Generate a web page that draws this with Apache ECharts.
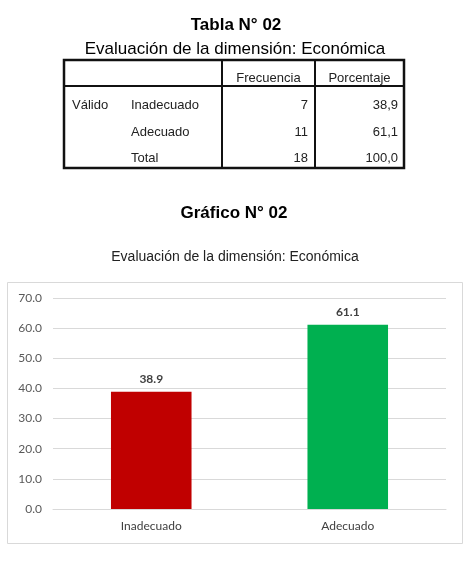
<!DOCTYPE html>
<html>
<head>
<meta charset="utf-8">
<script src="https://cdn.jsdelivr.net/npm/echarts@6/dist/echarts.min.js"></script>
<style>
  html, body { margin: 0; padding: 0; background: #fff; }
  #main { width: 474px; height: 571px; }
</style>
</head>
<body>
<div id="main"></div>
<script>
// datos del grafico
var categorias = ['Inadecuado', 'Adecuado'];
var porcentajes = [38.9, 61.1];
var colores = ['#C00000', '#00B050'];

// datos de la tabla
var tablaEtiquetas = ['Inadecuado', 'Adecuado', 'Total'];
var tablaFrecuencia = ['7', '11', '18'];
var tablaPorcentaje = ['38,9', '61,1', '100,0'];

var fontTxt = 'Liberation Sans, Arial, sans-serif';
var fontChart = 'Lato, Carlito, Calibri, sans-serif';

// tabla dibujada con graphic
var tabla = [];
var L = 64, T = 60, R = 404, B = 168, H = 86, C1 = 222, C2 = 315;
var linea = {stroke: '#111', lineWidth: 2};
tabla.push({type: 'rect', shape: {x: L, y: T, width: R - L, height: B - T}, style: {fill: 'none', stroke: '#111', lineWidth: 2.5}});
tabla.push({type: 'line', shape: {x1: L, y1: H, x2: R, y2: H}, style: linea});
tabla.push({type: 'line', shape: {x1: C1, y1: T, x2: C1, y2: B}, style: linea});
tabla.push({type: 'line', shape: {x1: C2, y1: T, x2: C2, y2: B}, style: linea});
tabla.push({type: 'text', x: (C1 + C2) / 2, y: 78, style: {text: 'Frecuencia', font: '13px ' + fontTxt, fill: '#222', align: 'center', verticalAlign: 'middle'}});
tabla.push({type: 'text', x: (C2 + R) / 2, y: 78, style: {text: 'Porcentaje', font: '13px ' + fontTxt, fill: '#222', align: 'center', verticalAlign: 'middle'}});
tabla.push({type: 'text', x: 72, y: 105, style: {text: 'Válido', font: '13px ' + fontTxt, fill: '#222', verticalAlign: 'middle'}});
var filasY = [105, 132, 158];
for (var i = 0; i < tablaEtiquetas.length; i++) {
    tabla.push({type: 'text', x: 131, y: filasY[i], style: {text: tablaEtiquetas[i], font: '13px ' + fontTxt, fill: '#222', verticalAlign: 'middle'}});
    tabla.push({type: 'text', x: 308, y: filasY[i], style: {text: tablaFrecuencia[i], font: '13px ' + fontTxt, fill: '#222', align: 'right', verticalAlign: 'middle'}});
    tabla.push({type: 'text', x: 398, y: filasY[i], style: {text: tablaPorcentaje[i], font: '13px ' + fontTxt, fill: '#222', align: 'right', verticalAlign: 'middle'}});
}

var textos = [
    {type: 'text', x: 236, y: 25, style: {text: 'Tabla N° 02', font: 'bold 17px ' + fontTxt, fill: '#000', align: 'center', verticalAlign: 'middle'}},
    {type: 'text', x: 235, y: 49, style: {text: 'Evaluación de la dimensión: Económica', font: '17px ' + fontTxt, fill: '#000', align: 'center', verticalAlign: 'middle'}},
    {type: 'text', x: 234, y: 213, style: {text: 'Gráfico N° 02', font: 'bold 17px ' + fontTxt, fill: '#000', align: 'center', verticalAlign: 'middle'}},
    {type: 'text', x: 235, y: 257, style: {text: 'Evaluación de la dimensión: Económica', font: '14px ' + fontTxt, fill: '#222', align: 'center', verticalAlign: 'middle'}},
    // marco del grafico
    {type: 'rect', z: -1, shape: {x: 7.5, y: 282.5, width: 455, height: 261}, style: {fill: '#fff', stroke: '#d9d9d9', lineWidth: 1}}
];

var chart = echarts.init(document.getElementById('main'));
var option = {
    animation: false,
    graphic: textos.concat(tabla),
    grid: {
        left: 53,
        right: 28,
        top: 298,
        bottom: 62,
        containLabel: false
    },
    xAxis: {
        type: 'category',
        data: categorias,
        axisLine: {lineStyle: {color: '#d9d9d9'}},
        axisTick: {show: false},
        axisLabel: {
            color: '#404040',
            fontFamily: fontChart,
            fontSize: 12,
            margin: 11
        }
    },
    yAxis: {
        type: 'value',
        min: 0,
        max: 70,
        interval: 10,
        axisLine: {show: false},
        axisTick: {show: false},
        splitLine: {lineStyle: {color: '#d9d9d9'}},
        axisLabel: {
            color: '#595959',
            fontFamily: fontChart,
            fontSize: 12,
            margin: 11,
            formatter: function (v) { return v.toFixed(1); }
        }
    },
    series: [{
        type: 'bar',
        data: porcentajes.map(function (v, i) {
            return {value: v, itemStyle: {color: colores[i]}};
        }),
        barWidth: '41%',
        label: {
            show: true,
            position: 'top',
            distance: 7,
            color: '#404040',
            fontWeight: 'bold',
            fontFamily: fontChart,
            fontSize: 12,
            formatter: function (p) { return p.value.toFixed(1); }
        }
    }]
};
chart.setOption(option);
</script>
</body>
</html>
